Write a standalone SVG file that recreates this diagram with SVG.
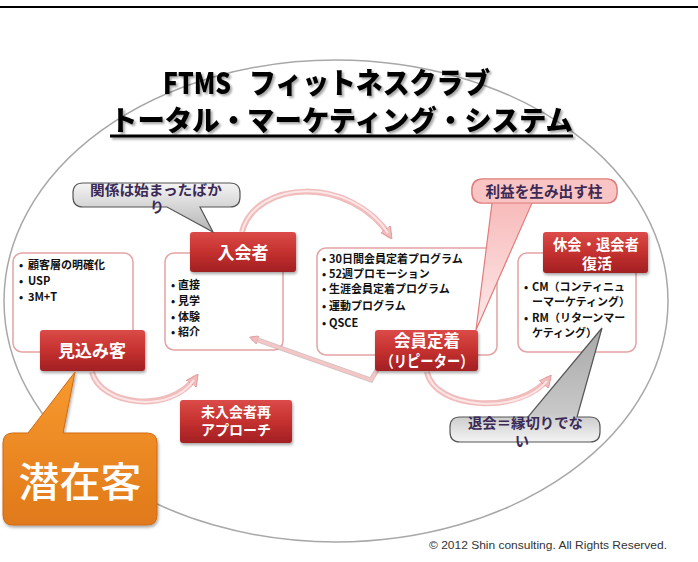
<svg xmlns="http://www.w3.org/2000/svg" width="698" height="562" viewBox="0 0 698 562">
<defs>
<style>
.jp{font-family:'Noto Sans CJK JP','Noto Sans',sans-serif}
.title{font-weight:900;fill:#000}
.bul{font-size:11px;font-weight:700;fill:#111}
.wbox{fill:#fff;stroke:#e5a3a3;stroke-width:1.5}
.rbox{fill:url(#gRed);filter:url(#sh)}
.rtxt{fill:#fff;font-weight:700;text-anchor:middle}
.ctxt{fill:#3a2a55;font-weight:700}
.arc{fill:none;stroke:#f1bcbc;stroke-width:6}
.arcIn{fill:none;stroke:#fde6e6;stroke-width:2}
</style>
<linearGradient id="gRed" x1="0" y1="0" x2="0" y2="1">
<stop offset="0" stop-color="#db4b48"/>
<stop offset="0.5" stop-color="#c5312f"/>
<stop offset="1" stop-color="#a21f23"/>
</linearGradient>
<linearGradient id="gGray" x1="0" y1="0" x2="0" y2="1">
<stop offset="0" stop-color="#f4f4f4"/>
<stop offset="1" stop-color="#b4b4b4"/>
</linearGradient>
<linearGradient id="gGray2" x1="0" y1="1" x2="0" y2="0">
<stop offset="0" stop-color="#f4f4f4"/>
<stop offset="0.25" stop-color="#c8c8c8"/>
<stop offset="1" stop-color="#a8a8a8"/>
</linearGradient>
<linearGradient id="gPink" x1="0" y1="0" x2="0" y2="1">
<stop offset="0" stop-color="#f7b2b2"/>
<stop offset="1" stop-color="#fdeaea"/>
</linearGradient>
<linearGradient id="gOrange" x1="0" y1="0" x2="0" y2="1">
<stop offset="0" stop-color="#f89a2e"/>
<stop offset="1" stop-color="#e0791a"/>
</linearGradient>
<filter id="sh" x="-10%" y="-10%" width="125%" height="135%">
<feDropShadow dx="1" dy="2" stdDeviation="1.5" flood-color="#000" flood-opacity="0.35"/>
</filter>
<filter id="tsh" x="-5%" y="-10%" width="110%" height="130%">
<feDropShadow dx="2" dy="2" stdDeviation="1" flood-color="#000" flood-opacity="0.35"/>
</filter>
<marker id="ah" viewBox="0 0 10 10" refX="7" refY="5" markerWidth="12" markerHeight="12" markerUnits="userSpaceOnUse" orient="auto">
<path d="M0,0 L10,5 L0,10 Z" fill="#f1bcbc" stroke="#e09a9a" stroke-width="0.8"/>
</marker>
<marker id="ahs" viewBox="0 0 10 10" refX="7" refY="5" markerWidth="9" markerHeight="9" markerUnits="userSpaceOnUse" orient="auto">
<path d="M0,0 L10,5 L0,10 Z" fill="#f1bcbc" stroke="#d99a9a" stroke-width="0.8"/>
</marker>
</defs>

<rect x="0" y="0" width="698" height="562" fill="#fff"/>
<line x1="0" y1="7" x2="698" y2="7" stroke="#000" stroke-width="2"/>

<ellipse cx="336" cy="301" rx="332" ry="241" fill="none" stroke="#a8a8a8" stroke-width="1.5"/>

<g id="title" class="jp title" filter="url(#tsh)">
<text y="94" font-size="29"><tspan x="163" textLength="68" lengthAdjust="spacingAndGlyphs">FTMS</tspan><tspan x="249" textLength="241" lengthAdjust="spacingAndGlyphs">フィットネスクラブ</tspan></text>
<text x="110" y="131" font-size="28" textLength="463" lengthAdjust="spacingAndGlyphs">トータル・マーケティング・システム</text>
<line x1="110" y1="136" x2="573" y2="136" stroke="#000" stroke-width="3"/>
</g>

<g id="box-mikomi-detail">
<rect class="wbox" x="13" y="253" width="120" height="99" rx="9"/>
<text class="jp bul" y="269"><tspan x="19">•</tspan><tspan x="28">顧客層の明確化</tspan></text>
<text class="jp bul" y="285"><tspan x="19">•</tspan><tspan x="28">USP</tspan></text>
<text class="jp bul" y="301"><tspan x="19">•</tspan><tspan x="28">3M+T</tspan></text>
</g>

<g id="box-nyukai-detail">
<rect class="wbox" x="165" y="253" width="118" height="97" rx="9"/>
<text class="jp bul" y="289"><tspan x="171">•</tspan><tspan x="178">直接</tspan></text>
<text class="jp bul" y="305"><tspan x="171">•</tspan><tspan x="178">見学</tspan></text>
<text class="jp bul" y="321"><tspan x="171">•</tspan><tspan x="178">体験</tspan></text>
<text class="jp bul" y="336"><tspan x="171">•</tspan><tspan x="178">紹介</tspan></text>
</g>

<g id="box-teichaku-detail">
<rect class="wbox" x="317" y="248" width="180" height="107" rx="9"/>
<text class="jp bul" y="263"><tspan x="322">•</tspan><tspan x="329">30日間会員定着プログラム</tspan></text>
<text class="jp bul" y="278"><tspan x="322">•</tspan><tspan x="329">52週プロモーション</tspan></text>
<text class="jp bul" y="293"><tspan x="322">•</tspan><tspan x="329">生涯会員定着プログラム</tspan></text>
<text class="jp bul" y="310"><tspan x="322">•</tspan><tspan x="329">運動プログラム</tspan></text>
<text class="jp bul" y="327"><tspan x="322">•</tspan><tspan x="329">QSCE</tspan></text>
</g>

<g id="box-fukkatsu-detail">
<rect class="wbox" x="518" y="253" width="118" height="99" rx="9"/>
<text class="jp bul" y="291"><tspan x="524">•</tspan><tspan x="532">CM（コンティニュ</tspan></text>
<text class="jp bul" x="532" y="306">ーマーケティング）</text>
<text class="jp bul" y="322"><tspan x="524">•</tspan><tspan x="532">RM（リターンマー</tspan></text>
<text class="jp bul" x="532" y="337">ケティング）</text>
</g>

<g id="connectors">
<path class="arc" d="M92,372 C100,405 170,415 196,377" marker-end="url(#ah)"/>
<path class="arcIn" d="M92,372 C100,405 170,415 194,380"/>
<path class="arc" d="M242,232 C255,180 350,175 390,236" marker-end="url(#ah)"/>
<path class="arcIn" d="M242,232 C255,180 350,175 388,233"/>
<path class="arc" d="M427,372 C435,410 520,415 549,378" marker-end="url(#ah)"/>
<path class="arcIn" d="M427,372 C435,410 520,415 547,381"/>
<path d="M377,370 L371,380 L252,338" fill="none" stroke="#c4a8a8" stroke-width="5" opacity="0.7"/>
<path d="M377,370 L371,380 L252,338" fill="none" stroke="#f4c6c6" stroke-width="3" marker-end="url(#ahs)"/>
</g>

<g id="node-mikomi">
<rect class="rbox" x="40" y="330" width="105" height="41" rx="3"/>
<text class="jp rtxt" x="92" y="357" font-size="17">見込み客</text>
</g>

<g id="node-nyukai">
<rect class="rbox" x="190" y="232" width="106" height="40" rx="3"/>
<text class="jp rtxt" x="243" y="259" font-size="17">入会者</text>
</g>

<g id="node-teichaku">
<rect class="rbox" x="375" y="330" width="103" height="41" rx="3"/>
<text class="jp rtxt" x="427" y="347" font-size="16.5">会員定着</text>
<text class="jp rtxt" x="427" y="367" font-size="15.5" textLength="93" lengthAdjust="spacingAndGlyphs">（リピーター）</text>
</g>

<g id="node-fukkatsu">
<rect class="rbox" x="543" y="232" width="105" height="41" rx="3"/>
<text class="jp rtxt" x="596" y="250" font-size="15" textLength="86" lengthAdjust="spacingAndGlyphs">休会・退会者</text>
<text class="jp rtxt" x="597" y="269" font-size="15">復活</text>
</g>

<g id="node-minyukai">
<rect class="rbox" x="180" y="400" width="112" height="43" rx="3"/>
<text class="jp rtxt" x="236" y="417" font-size="14">未入会者再</text>
<text class="jp rtxt" x="236" y="435" font-size="14">アプローチ</text>
</g>

<g id="callout-kankei">
<path d="M83,183 H230 Q240,183 240,193 V197 Q240,207 230,207 H200 L213,232 L167,207 H83 Q73,207 73,197 V193 Q73,183 83,183 Z" fill="url(#gGray)" stroke="#555" stroke-width="1.2"/>
<text class="jp ctxt" x="90" y="195" font-size="14" textLength="132" lengthAdjust="spacingAndGlyphs">関係は始まったばか</text>
<text class="jp ctxt" x="157" y="212" font-size="14" text-anchor="middle">り</text>
</g>

<g id="callout-rieki">
<path d="M482,179 H607 Q617,179 617,189 V193 Q617,203 607,203 H532 L476,330 L492,203 H482 Q472,203 472,193 V189 Q472,179 482,179 Z" fill="url(#gPink)" stroke="#e07c7c" stroke-width="1.2"/>
<rect x="472" y="179" width="145" height="24" rx="10" fill="#f9c4c4" stroke="#e07c7c" stroke-width="1.2"/>
<text class="jp ctxt" x="544" y="197" font-size="14.5" text-anchor="middle" textLength="117" lengthAdjust="spacingAndGlyphs">利益を生み出す柱</text>
</g>

<g id="callout-taikai">
<path d="M460,417 H528 L602,328 L577,417 H590 Q600,417 600,427 V432 Q600,442 590,442 H460 Q450,442 450,432 V427 Q450,417 460,417 Z" fill="url(#gGray2)" stroke="#555" stroke-width="1.2"/>
<text class="jp ctxt" x="468" y="428" font-size="14" textLength="115" lengthAdjust="spacingAndGlyphs">退会＝縁切りでな</text>
<text class="jp ctxt" x="522" y="446" font-size="14" text-anchor="middle">い</text>
</g>

<g id="callout-senzai">
<path d="M13,433 H28 L75,372 L63,433 H147 Q157,433 157,443 V515 Q157,525 147,525 H13 Q3,525 3,515 V443 Q3,433 13,433 Z" fill="url(#gOrange)" stroke="#d06a10" stroke-width="1" filter="url(#sh)"/>
<text class="jp" x="80" y="497" font-size="41" fill="#fff" font-weight="500" text-anchor="middle">潜在客</text>
</g>

<text x="429" y="549" font-family="'Liberation Sans',Arial,sans-serif" font-size="11" fill="#333" textLength="238" lengthAdjust="spacingAndGlyphs">© 2012 Shin consulting. All Rights Reserved.</text>
</svg>
